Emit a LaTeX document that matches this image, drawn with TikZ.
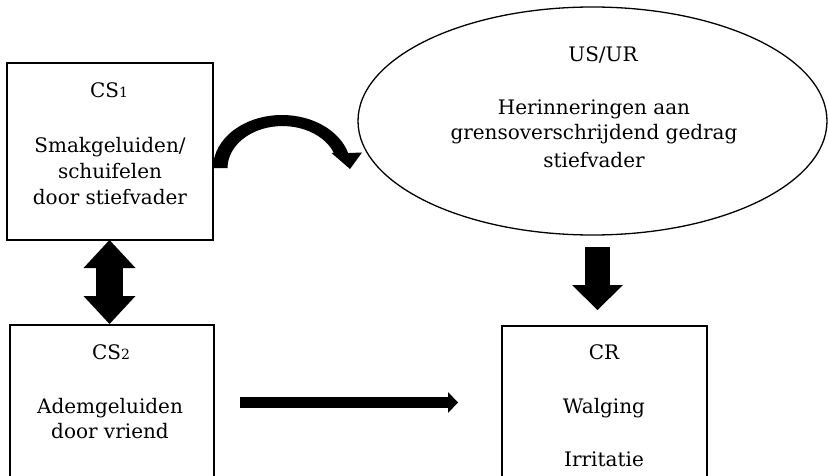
\documentclass[tikz,border=0pt]{standalone}
\usepackage{fontspec}
\setmainfont{DejaVu Serif}
\usetikzlibrary{shapes.geometric,arrows.meta}
\newcommand{\osn}[1]{{\fontsize{14}{14}\selectfont #1}}
\begin{document}
\begin{tikzpicture}[x=1pt,y=1pt,
  box/.style={draw,line width=1.3pt,rectangle,inner sep=0pt},
  txt/.style={anchor=base,inner sep=0pt,font=\fontsize{20}{24}\selectfont}]
\useasboundingbox (0,0) rectangle (828,475);
% boxes
\node[box,minimum width=206pt,minimum height=177pt] (cs1) at (110,323.5) {};
\draw[line width=1.3pt] (10,-5) -- (10,150) -- (214,150) -- (214,-5);
\coordinate (cs2) at (112,150);
\draw[line width=1.3pt] (502,-5) -- (502,149) -- (707,149) -- (707,-5);
\coordinate (cr) at (604,149);
\node[draw,line width=1.3pt,ellipse,minimum width=469pt,minimum height=228pt,inner sep=0pt] (us) at (592.5,354) {};
% texts
\node[txt] (t1) at (109,377) {CS\osn{1}};
\node[txt] (t2) at (110,323) {Smakgeluiden/};
\node[txt] (t3) at (110,297) {schuifelen};
\node[txt] (t4) at (110,271) {door stiefvader};
\node[txt] (u1) at (603,413) {US/UR};
\node[txt] (u2) at (594,360) {Herinneringen aan};
\node[txt] (u3) at (594,335) {grensoverschrijdend gedrag};
\node[txt] (u4) at (594,308) {stiefvader};
\node[txt] (c1) at (111,116) {CS\osn{2}};
\node[txt] (c2) at (110,62) {Ademgeluiden};
\node[txt] (c3) at (110,37) {door vriend};
\node[txt] (r1) at (604,116) {CR};
\node[txt] (r2) at (604,62) {Walging};
\node[txt] (r3) at (604,9) {Irritatie};
% arrows
\coordinate (dtop) at (109.5,235);
\coordinate (dbot) at (109.5,151);
\draw[line width=27pt,
  {Triangle[width=52pt,length=28pt,line width=0pt]}-{Triangle[width=52pt,length=28pt,line width=0pt]}]
  (dtop) -- (dbot);
\coordinate (hs) at (240,72.5);
\coordinate (he) at (458,72.5);
\draw[line width=11pt,-{Triangle[width=21pt,length=10pt,line width=0pt]}] (hs) -- (he);
\coordinate (vs) at (597.5,228);
\coordinate (ve) at (597.5,165);
\draw[line width=25pt,-{Triangle[width=51pt,length=25pt,line width=0pt]}] (vs) -- (ve);
% curved arrow
\fill (213,307) arc[start angle=180,end angle=16.4,x radius=69pt,y radius=53pt]
  -- (362,322.5) -- (350,306) -- (331.5,322) -- (333.9,322)
  arc[start angle=21,end angle=180,x radius=55pt,y radius=42pt] -- cycle;
\end{tikzpicture}
\end{document}
